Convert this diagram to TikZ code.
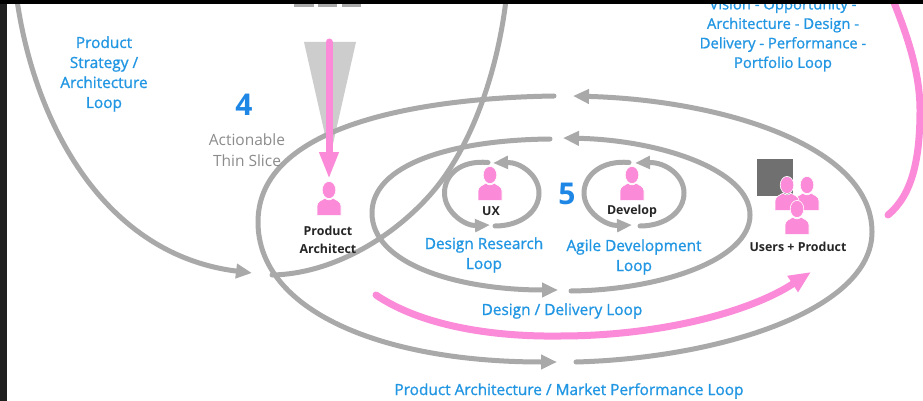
\documentclass[tikz,border=0pt]{standalone}
\usepackage{fontspec}
\setmainfont{Open Sans}
\newfontfamily\semib[FakeBold=1]{Open Sans}
\usetikzlibrary{arrows.meta}
\definecolor{loopgrey}{HTML}{A9A9A9}
\definecolor{wedgegrey}{HTML}{CDCDCD}
\definecolor{squaregrey}{HTML}{707070}
\definecolor{hotpink}{HTML}{FB8AD8}
\definecolor{loopblue}{HTML}{2196E3}
\tikzset{
  loopline/.style={draw=loopgrey,line width=5pt,line cap=round},
  pinkline/.style={draw=hotpink,line width=7pt,line cap=round},
  greytip/.style={-{Triangle[length=16pt,width=14pt,fill=loopgrey]}},
  smalltip/.style={-{Triangle[length=15pt,width=12.5pt,fill=loopgrey]}},
  pinktip/.style={-{Triangle[length=27pt,width=18pt,fill=hotpink]}},
  pinkcurvetip/.style={-{Triangle[length=22pt,width=18pt,fill=hotpink]}},
  bluetext/.style={text=loopblue,font=\semib\fontsize{15.4}{20}\selectfont,align=center,inner sep=0pt},
  visiontext/.style={bluetext,font=\semib\fontsize{14.8}{19.5}\selectfont},
  blacktext/.style={text=black!85,font=\bfseries\fontsize{12.4}{18}\selectfont,align=center,inner sep=0pt},
  greytext/.style={text=black!45,font=\fontsize{15.5}{21}\selectfont,align=center,inner sep=0pt},
  numtext/.style={text=loopblue!90!blue,font=\bfseries\fontsize{30}{30}\selectfont,inner sep=0pt},
  person/.pic={
    \path[fill=hotpink,draw=white,line width=.6pt] (0,0) ellipse [x radius=6.8,y radius=8.6];
    \path[fill=hotpink,draw=white,line width=.6pt] (-12,25.3) -- (-12,16)
      .. controls (-12,11) and (-7,10.5) .. (-4,8)
      .. controls (-2,10.5) and (2,10.5) .. (4,8)
      .. controls (7,10.5) and (12,11) .. (12,16) -- (12,25.3) -- cycle;
  }
}
\begin{document}
\begin{tikzpicture}[x=1pt,y=-1pt]
\useasboundingbox (0,0) rectangle (923,401);
\fill[white] (0,0) rectangle (923,401);

% top stub squares and wedge
\fill[loopgrey] (294,0) rectangle (314,7);
\fill[loopgrey] (318,0) rectangle (337,7);
\fill[loopgrey] (342,0) rectangle (361,7);
\fill[wedgegrey] (304,42) -- (356,42) -- (330,157) -- cycle;

% end points
\coordinate (stratEnd) at (252,273);
\coordinate (archStart) at (272,275);
\coordinate (pinkTop) at (329,42);
\coordinate (pinkTip) at (329,179);

% strategy loop
\draw[loopline,greytip] (17,0) .. controls (35,125) and (105,255) .. (stratEnd);
\draw[loopline] (archStart) .. controls (330,274) and (390,240) .. (430,195) .. controls (470,150) and (497,75) .. (506,0);

% outer ellipse
\draw[loopline,greytip] (554,96) .. controls (420,98) and (258,125) .. (258,222) .. controls (258,310) and (380,362) .. (557,362);
\draw[loopline,greytip] (576,362) .. controls (720,358) and (872,310) .. (872,232) .. controls (872,145) and (720,100) .. (573,96);

% inner ellipse
\draw[loopline,greytip] (550,139) .. controls (450,140) and (372,165) .. (372,213) .. controls (372,265) and (460,290) .. (558,290);
\draw[loopline,greytip] (571,291) .. controls (660,290) and (750,260) .. (750,215) .. controls (750,170) and (660,140) .. (563,138);

% UX loop
\draw[loopline,smalltip] (488,162.5) .. controls (460,160) and (444.5,175) .. (444.5,193) .. controls (444.5,212) and (465,226) .. (490,225);
\draw[loopline,smalltip] (495,226) .. controls (520,226) and (539,212) .. (539,193) .. controls (539,175) and (520,162) .. (493,163);
% Develop loop
\draw[loopline,smalltip] (629,162.5) .. controls (602,160) and (584,175) .. (584,193) .. controls (584,212) and (606,226) .. (632,225);
\draw[loopline,smalltip] (640,226) .. controls (665,226) and (684,212) .. (684,193) .. controls (684,175) and (665,162) .. (635,163);

% pink
\draw[pinkline,pinktip] (pinkTop) -- (pinkTip);
\draw[pinkline,pinkcurvetip] (376,295) .. controls (420,325) and (490,337) .. (560,336) .. controls (660,336) and (750,312) .. (811,272);
\draw[pinkline] (888,215) .. controls (912,195) and (920,160) .. (920,110) .. controls (920,70) and (905,30) .. (893,0);

% people
\pic (architect) at (329,190) {person};
\pic (ux) at (490,175) {person};
\pic (develop) at (632,175) {person};
\fill[squaregrey] (757,159) rectangle (793,196);
\pic (userA) at (807,185) {person};
\pic (userB) at (787,185) {person};
\pic (userC) at (797,209) {person};

% text
\node[bluetext] (strategy) at (104,74) {Product\\Strategy /\\Architecture\\Loop};
\node[numtext] (four) at (244,105) {4};
\node[greytext] (thin) at (247,150) {Actionable\\Thin Slice};
\node[blacktext] (architectLabel) at (328,240) {Product\\Architect};
\node[blacktext] (uxLabel) at (491,211) {UX};
\node[blacktext] (developLabel) at (632,211) {Develop};
\node[numtext] (five) at (567,194) {5};
\node[bluetext] (research) at (484,255) {Design Research\\Loop};
\node[bluetext] (agile) at (634,257) {Agile Development\\Loop};
\node[blacktext] (users) at (798,247) {Users + Product};
\node[bluetext] (delivery) at (562,311) {Design / Delivery Loop};
\node[bluetext] (market) at (569,391) {Product Architecture / Market Performance Loop};
\node[visiontext] (vision) at (783,35) {Vision - Opportunity -\\Architecture - Design -\\Delivery - Performance -\\Portfolio Loop};

% black frame
\fill[black!88] (0,0) rectangle (7,401);
\fill[black] (0,0) rectangle (923,4);
\end{tikzpicture}
\end{document}
